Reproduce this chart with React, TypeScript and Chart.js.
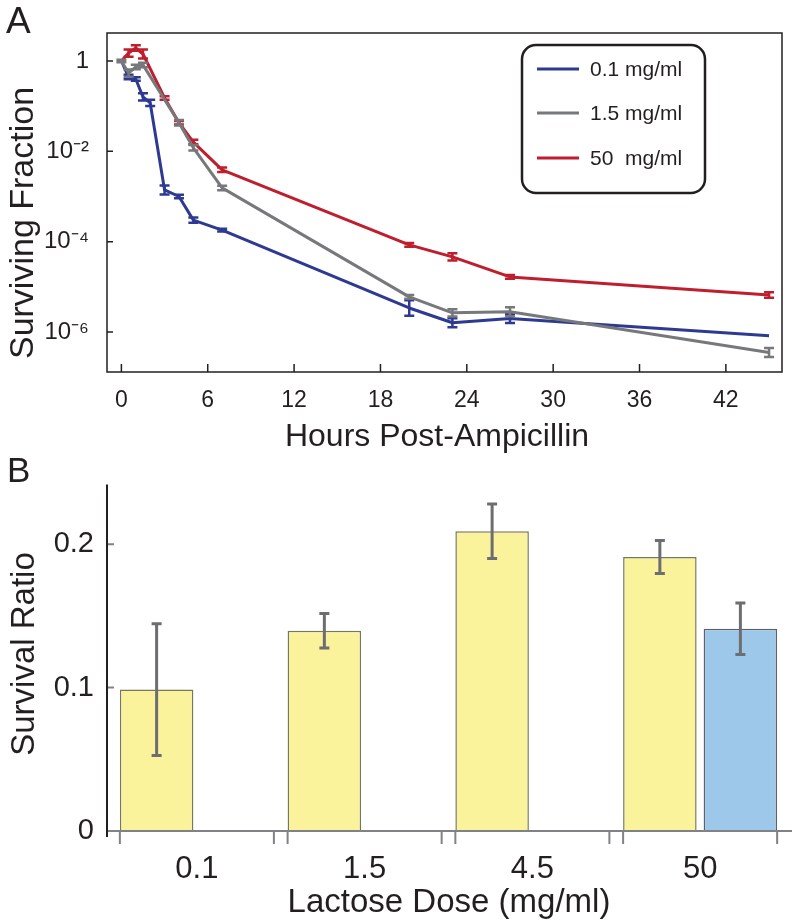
import React, { useEffect, useRef } from "react";
import { Chart, registerables } from "chart.js";
Chart.register(...registerables);

// ---------- Panel A data ----------
const seriesLabels = ["0.1 mg/ml", "1.5 mg/ml", "50  mg/ml"];
const hoursBlue = [0, 0.5, 1, 1.5, 2, 3, 4, 5, 7, 20, 23, 27, 45];
const fracBlue = [1, 0.44, 0.4, 0.16, 0.118, 0.0014, 0.001, 3.0e-4, 1.8e-4, 3.4e-6, 1.6e-6, 2.0e-6, 8.3e-7];
const errBlue = [0, 0.05, 0.04, 0.08, 0.07, 0.1, 0.04, 0.06, 0.03, 0.17, 0.1, 0.1, 0];
const hoursGray = [0, 0.5, 1, 1.5, 4, 5, 7, 20, 23, 27, 45];
const fracGray = [1, 0.54, 0.74, 0.82, 0.043, 0.012, 0.00155, 6.0e-6, 2.65e-6, 2.8e-6, 3.5e-7];
const errGray = [0.03, 0.08, 0.05, 0.05, 0.06, 0.06, 0.05, 0.04, 0.08, 0.1, 0.1];
const hoursRed = [0, 0.5, 1, 1.5, 3, 4, 5, 7, 20, 23, 27, 45];
const fracRed = [1, 1.5, 1.94, 1.43, 0.152, 0.043, 0.016, 0.0039, 8.5e-5, 4.6e-5, 1.66e-5, 6.6e-6];
const errRed = [0, 0.08, 0.06, 0.1, 0.04, 0.04, 0.05, 0.05, 0.04, 0.08, 0.04, 0.06];
const hourTicks = [0, 6, 12, 18, 24, 30, 36, 42];
const fracTicks = [1e-6, 1e-4, 1e-2, 1];

// ---------- Panel B data ----------
const doses = ["0.1", "1.5", "4.5", "50"];
const ratioYellow = [0.0986, 0.1396, 0.209, 0.191];
const errYellow = [0.046, 0.012, 0.019, 0.0115];
const ratioBlue = [null, null, null, 0.141];
const errBlueBar = [0, 0, 0, 0.018];
const ratioTicks = [0, 0.1, 0.2];

const FONT = "'Liberation Sans', Arial, Helvetica, sans-serif";
const INK = "#231f20";
const C_BLUE = "#2e3a92";
const C_GRAY = "#77787b";
const C_RED = "#be1e2d";

const SUP: Record<string, string> = {
  "-": "\u207B", "0": "\u2070", "1": "\u00B9", "2": "\u00B2", "3": "\u00B3",
  "4": "\u2074", "5": "\u2075", "6": "\u2076", "7": "\u2077", "8": "\u2078", "9": "\u2079",
};
const fmtPow = (v: number) => {
  const e = Math.round(Math.log10(v));
  if (e === 0) return "1";
  return "10" + String(e).split("").map((c) => SUP[c]).join("");
};

const pts = (xs: number[], ys: number[]) => xs.map((x, i) => ({ x, y: ys[i] }));

export default function App() {
  const topRef = useRef<HTMLCanvasElement>(null);
  const botRef = useRef<HTMLCanvasElement>(null);

  useEffect(() => {
    const topErrs = [errGray, errRed, errBlue];
    const topPlugin = {
      id: "topDecor",
      afterDatasetDraw(chart: any, args: any) {
        const ctx = chart.ctx;
        const ds = chart.data.datasets[args.index];
        const errs = topErrs[args.index];
        const ys = chart.scales.y;
        ctx.save();
        ctx.strokeStyle = ds.borderColor;
        ctx.lineWidth = 2.5;
        args.meta.data.forEach((pt: any, i: number) => {
          const e = errs[i];
          if (!e) return;
          const v = ds.data[i].y;
          const x = pt.x;
          const y1 = ys.getPixelForValue(v * Math.pow(10, e));
          const y2 = ys.getPixelForValue(v / Math.pow(10, e));
          ctx.beginPath();
          ctx.moveTo(x, y1); ctx.lineTo(x, y2);
          ctx.moveTo(x - 5, y1); ctx.lineTo(x + 5, y1);
          ctx.moveTo(x - 5, y2); ctx.lineTo(x + 5, y2);
          ctx.stroke();
        });
        ctx.restore();
      },
      afterDraw(chart: any) {
        const ctx = chart.ctx;
        const { left, right, top, bottom } = chart.chartArea;
        const xs = chart.scales.x, ys = chart.scales.y;
        ctx.save();
        // box
        ctx.strokeStyle = INK;
        ctx.lineWidth = 1.5;
        ctx.strokeRect(left, top, right - left, bottom - top);
        // inward ticks
        ctx.beginPath();
        hourTicks.forEach((h) => {
          const x = xs.getPixelForValue(h);
          ctx.moveTo(x, bottom); ctx.lineTo(x, bottom - 8);
        });
        fracTicks.forEach((f) => {
          const y = ys.getPixelForValue(f);
          ctx.moveTo(left, y); ctx.lineTo(left + 6, y);
        });
        ctx.stroke();
        // legend
        ctx.lineWidth = 2.5;
        ctx.beginPath();
        (ctx as any).roundRect(522, 45, 183, 148, 14);
        ctx.stroke();
        const cols = [C_BLUE, C_GRAY, C_RED];
        const rows = [69, 113, 158];
        ctx.font = `21px ${FONT}`;
        ctx.textAlign = "left";
        ctx.textBaseline = "middle";
        seriesLabels.forEach((lab, i) => {
          ctx.strokeStyle = cols[i];
          ctx.lineWidth = 3;
          ctx.beginPath();
          ctx.moveTo(537, rows[i]); ctx.lineTo(579, rows[i]);
          ctx.stroke();
          ctx.fillStyle = INK;
          ctx.fillText(lab, 590, rows[i] + 1);
        });
        // titles
        ctx.fillStyle = INK;
        ctx.textBaseline = "alphabetic";
        ctx.textAlign = "center";
        ctx.font = `32px ${FONT}`;
        ctx.fillText("Hours Post-Ampicillin", 437, 446);
        ctx.save();
        ctx.translate(33, 223);
        ctx.rotate(-Math.PI / 2);
        ctx.font = `34px ${FONT}`;
        ctx.fillText("Surviving Fraction", 0, 0);
        ctx.restore();
        ctx.textAlign = "left";
        ctx.font = `37px ${FONT}`;
        ctx.fillText("A", 6, 33);
        ctx.restore();
      },
    };

    const c1 = new Chart(topRef.current!, {
      type: "line",
      data: {
        datasets: [
          { label: seriesLabels[1], data: pts(hoursGray, fracGray), borderColor: C_GRAY },
          { label: seriesLabels[2], data: pts(hoursRed, fracRed), borderColor: C_RED },
          { label: seriesLabels[0], data: pts(hoursBlue, fracBlue), borderColor: C_BLUE },
        ].map((d) => ({ ...d, borderWidth: 3, pointRadius: 0, tension: 0, fill: false, borderJoinStyle: "round" as const })),
      },
      options: {
        animation: false,
        responsive: false,
        maintainAspectRatio: false,
        layout: { padding: { left: 0, right: 14, top: 33, bottom: 0 } },
        plugins: { legend: { display: false }, tooltip: { enabled: false } },
        scales: {
          x: {
            type: "linear",
            min: -1,
            max: 45.9,
            bounds: "data",
            grid: { display: false },
            border: { display: false },
            ticks: { font: { family: FONT, size: 23 }, color: INK, padding: 7, callback: (v: any) => String(v) },
            afterBuildTicks: (s: any) => { s.ticks = hourTicks.map((v) => ({ value: v })); },
            afterFit: (s: any) => { s.height = 456 - 372; },
          },
          y: {
            type: "logarithmic",
            min: 1.3e-7,
            max: 4.17,
            bounds: "data",
            grid: { display: false },
            border: { display: false },
            ticks: { font: { family: FONT, size: 24 }, color: INK, padding: 10, callback: (v: any) => fmtPow(Number(v)) },
            afterBuildTicks: (s: any) => { s.ticks = fracTicks.map((v) => ({ value: v })); },
            afterFit: (s: any) => { s.width = 107; },
          },
        },
      },
      plugins: [topPlugin],
    } as any);

    // ---------- Panel B ----------
    const botErrs = [errYellow, errBlueBar];
    const botPlugin = {
      id: "botDecor",
      afterDatasetsDraw(chart: any) {
        const ctx = chart.ctx;
        const ys = chart.scales.y;
        ctx.save();
        ctx.strokeStyle = "#6d6e71";
        ctx.lineWidth = 3;
        chart.data.datasets.forEach((ds: any, di: number) => {
          const meta = chart.getDatasetMeta(di);
          ds.data.forEach((v: any, i: number) => {
            if (v == null) return;
            const e = botErrs[di][i];
            const x = meta.data[i].x;
            const y1 = ys.getPixelForValue(v + e);
            const y2 = ys.getPixelForValue(v - e);
            ctx.beginPath();
            ctx.moveTo(x, y1); ctx.lineTo(x, y2);
            ctx.moveTo(x - 5, y1); ctx.lineTo(x + 5, y1);
            ctx.moveTo(x - 5, y2); ctx.lineTo(x + 5, y2);
            ctx.stroke();
          });
        });
        ctx.restore();
      },
      afterDraw(chart: any) {
        const ctx = chart.ctx;
        const { top, bottom } = chart.chartArea;
        const xs = chart.scales.x, ys = chart.scales.y;
        const axX = 107;
        ctx.save();
        // x axis line
        ctx.strokeStyle = "#808285";
        ctx.lineWidth = 2;
        ctx.beginPath();
        ctx.moveTo(axX, bottom); ctx.lineTo(792, bottom);
        // group edge ticks
        const m0 = chart.getDatasetMeta(0);
        doses.forEach((_, i) => {
          const c = xs.getPixelForValue(i);
          const el = m0.data[i];
          const l = el.x - el.width / 2;
          const r = 2 * c - l;
          ctx.moveTo(l, bottom); ctx.lineTo(l, bottom + 13);
          ctx.moveTo(r, bottom); ctx.lineTo(r, bottom + 13);
        });
        // y ticks (inward)
        ratioTicks.forEach((t) => {
          if (t === 0) return;
          const y = ys.getPixelForValue(t);
          ctx.moveTo(axX, y); ctx.lineTo(axX + 7, y);
        });
        ctx.stroke();
        // y axis line
        ctx.strokeStyle = INK;
        ctx.lineWidth = 2;
        ctx.beginPath();
        ctx.moveTo(axX, top); ctx.lineTo(axX, bottom + 6);
        ctx.stroke();
        // titles
        ctx.fillStyle = INK;
        ctx.textBaseline = "alphabetic";
        ctx.textAlign = "center";
        ctx.font = `33px ${FONT}`;
        ctx.fillText("Lactose Dose (mg/ml)", 449, 912 - 456);
        ctx.save();
        ctx.translate(34, 654 - 456);
        ctx.rotate(-Math.PI / 2);
        ctx.fillText("Survival Ratio", 0, 0);
        ctx.restore();
        ctx.textAlign = "left";
        ctx.font = `35px ${FONT}`;
        ctx.fillText("B", 7, 482 - 456);
        ctx.restore();
      },
    };

    const c2 = new Chart(botRef.current!, {
      type: "bar",
      data: {
        labels: doses,
        datasets: [
          { data: ratioYellow, backgroundColor: "#faf39b", borderColor: "#77775f", borderWidth: 1.5 },
          { data: ratioBlue, backgroundColor: "#9ec8ea", borderColor: "#5d6065", borderWidth: 1.5 },
        ],
      },
      options: {
        animation: false,
        responsive: false,
        maintainAspectRatio: false,
        categoryPercentage: 0.96,
        barPercentage: 0.913,
        layout: { padding: { left: 0, right: 12, top: 27, bottom: 0 } },
        plugins: { legend: { display: false }, tooltip: { enabled: false } },
        scales: {
          x: {
            grid: { display: false },
            border: { display: false },
            ticks: { font: { family: FONT, size: 31 }, color: INK, padding: 12 },
            afterFit: (s: any) => { s.height = 465 - 375; },
          },
          y: {
            min: 0,
            max: 0.2417,
            bounds: "data",
            grid: { display: false },
            border: { display: false },
            ticks: {
              font: { family: FONT, size: 29 },
              color: INK,
              padding: 11,
              callback: (v: any) => (Number(v) === 0 ? "0" : Number(v).toFixed(1)),
            },
            afterBuildTicks: (s: any) => { s.ticks = ratioTicks.map((v) => ({ value: v })); },
            afterFit: (s: any) => { s.width = 113; },
          },
        },
      },
      plugins: [botPlugin],
    } as any);

    return () => {
      c1.destroy();
      c2.destroy();
    };
  }, []);

  return (
    <div style={{ position: "absolute", left: 0, top: 0, width: 796, height: 921, background: "#fff" }}>
      <canvas ref={topRef} width={796} height={456} style={{ position: "absolute", left: 0, top: 0, width: 796, height: 456 }} />
      <canvas ref={botRef} width={796} height={465} style={{ position: "absolute", left: 0, top: 456, width: 796, height: 465 }} />
    </div>
  );
}
